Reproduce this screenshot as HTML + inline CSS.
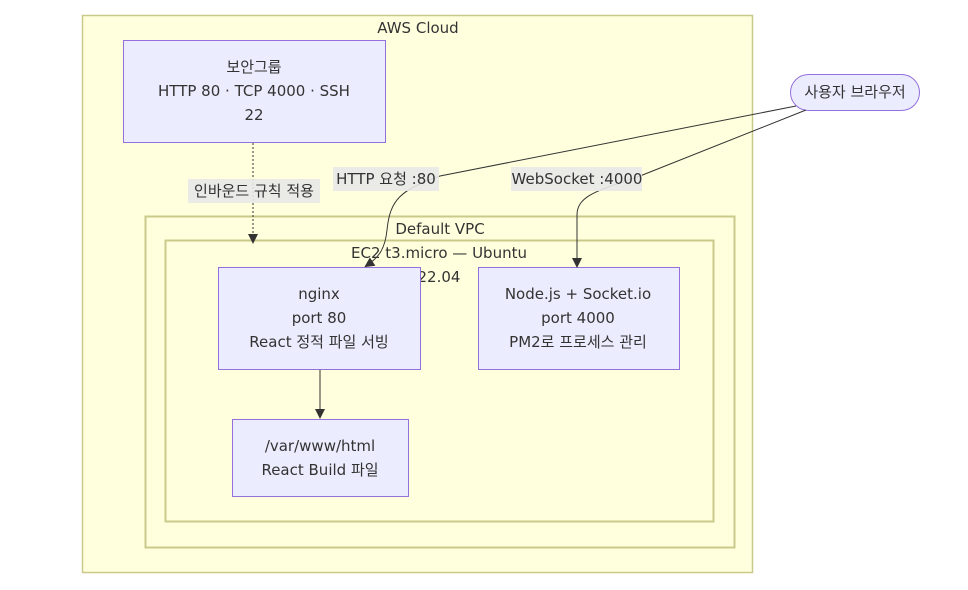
<!DOCTYPE html>
<html><head><meta charset="utf-8"><style>
body{margin:0;background:#fff;width:968px;height:586px;overflow:hidden;font-family:"DejaVu Sans","Noto Sans CJK KR",sans-serif;}
svg text{font-family:"DejaVu Sans","Noto Sans CJK KR",sans-serif;font-size:15px;fill:#333;}
</style></head><body>
<svg width="968" height="586" xmlns="http://www.w3.org/2000/svg">
<defs><marker id="a" markerWidth="10" markerHeight="10" refX="8" refY="5" orient="auto" markerUnits="userSpaceOnUse"><path d="M0,0L10,5L0,10z" fill="#333"/></marker></defs>
<rect x="82.5" y="15.5" width="670" height="557" fill="#ffffde" stroke="#c9c98a" stroke-width="1.5"/>
<text x="418" y="33" text-anchor="middle">AWS Cloud</text>
<rect x="145.5" y="216.5" width="589" height="331" fill="#ffffde" stroke="#c9c98a" stroke-width="2"/>
<text x="440" y="234" text-anchor="middle">Default VPC</text>
<rect x="165.5" y="240.5" width="548" height="281" fill="#ffffde" stroke="#c9c98a" stroke-width="2"/>
<text x="439" y="258" text-anchor="middle">EC2 t3.micro — Ubuntu</text>
<text x="439" y="282" text-anchor="middle">22.04</text>
<g fill="#ececff" stroke="#9370db" stroke-width="1">
<rect x="123.5" y="40.5" width="262" height="102"/>
<rect x="218.5" y="267.5" width="202" height="102"/>
<rect x="478.5" y="267.5" width="201" height="102"/>
<rect x="232.5" y="419.5" width="176" height="77"/>
<rect x="790.5" y="74.5" width="129" height="36" rx="18"/>
</g>
<text x="254" y="72" text-anchor="middle">보안그룹</text>
<text x="254" y="96" text-anchor="middle">HTTP 80 · TCP 4000 · SSH</text>
<text x="254" y="120" text-anchor="middle">22</text>
<text x="319" y="299" text-anchor="middle">nginx</text>
<text x="319" y="323" text-anchor="middle">port 80</text>
<text x="319" y="347" text-anchor="middle">React 정적 파일 서빙</text>
<text x="578" y="299" text-anchor="middle">Node.js + Socket.io</text>
<text x="578" y="323" text-anchor="middle">port 4000</text>
<text x="578" y="347" text-anchor="middle">PM2로 프로세스 관리</text>
<text x="320" y="451" text-anchor="middle">/var/www/html</text>
<text x="320" y="475" text-anchor="middle">React Build 파일</text>
<text x="855" y="97" text-anchor="middle">사용자 브라우저</text>
<g fill="none" stroke="#333" stroke-width="1">
<path d="M253,143V242" stroke-dasharray="2,2" marker-end="url(#a)"/>
<path d="M320,370V417" marker-end="url(#a)"/>
<path d="M796,106 L440,176 C400,190 390,200 387,230 C385,250 378,258 366,266" marker-end="url(#a)"/>
<path d="M806,110 L640,176 C600,190 577,195 577,215 V266" marker-end="url(#a)"/>
</g>
<rect x="188" y="179" width="132" height="24" fill="#e8e8e8" opacity="0.9"/>
<text x="254" y="196" text-anchor="middle">인바운드 규칙 적용</text>
<rect x="333" y="167" width="106" height="24" fill="#e8e8e8" opacity="0.9"/>
<text x="386" y="184" text-anchor="middle">HTTP 요청 :80</text>
<rect x="511" y="167" width="131" height="24" fill="#e8e8e8" opacity="0.9"/>
<text x="577" y="184" text-anchor="middle">WebSocket :4000</text>
</svg>
</body></html>
